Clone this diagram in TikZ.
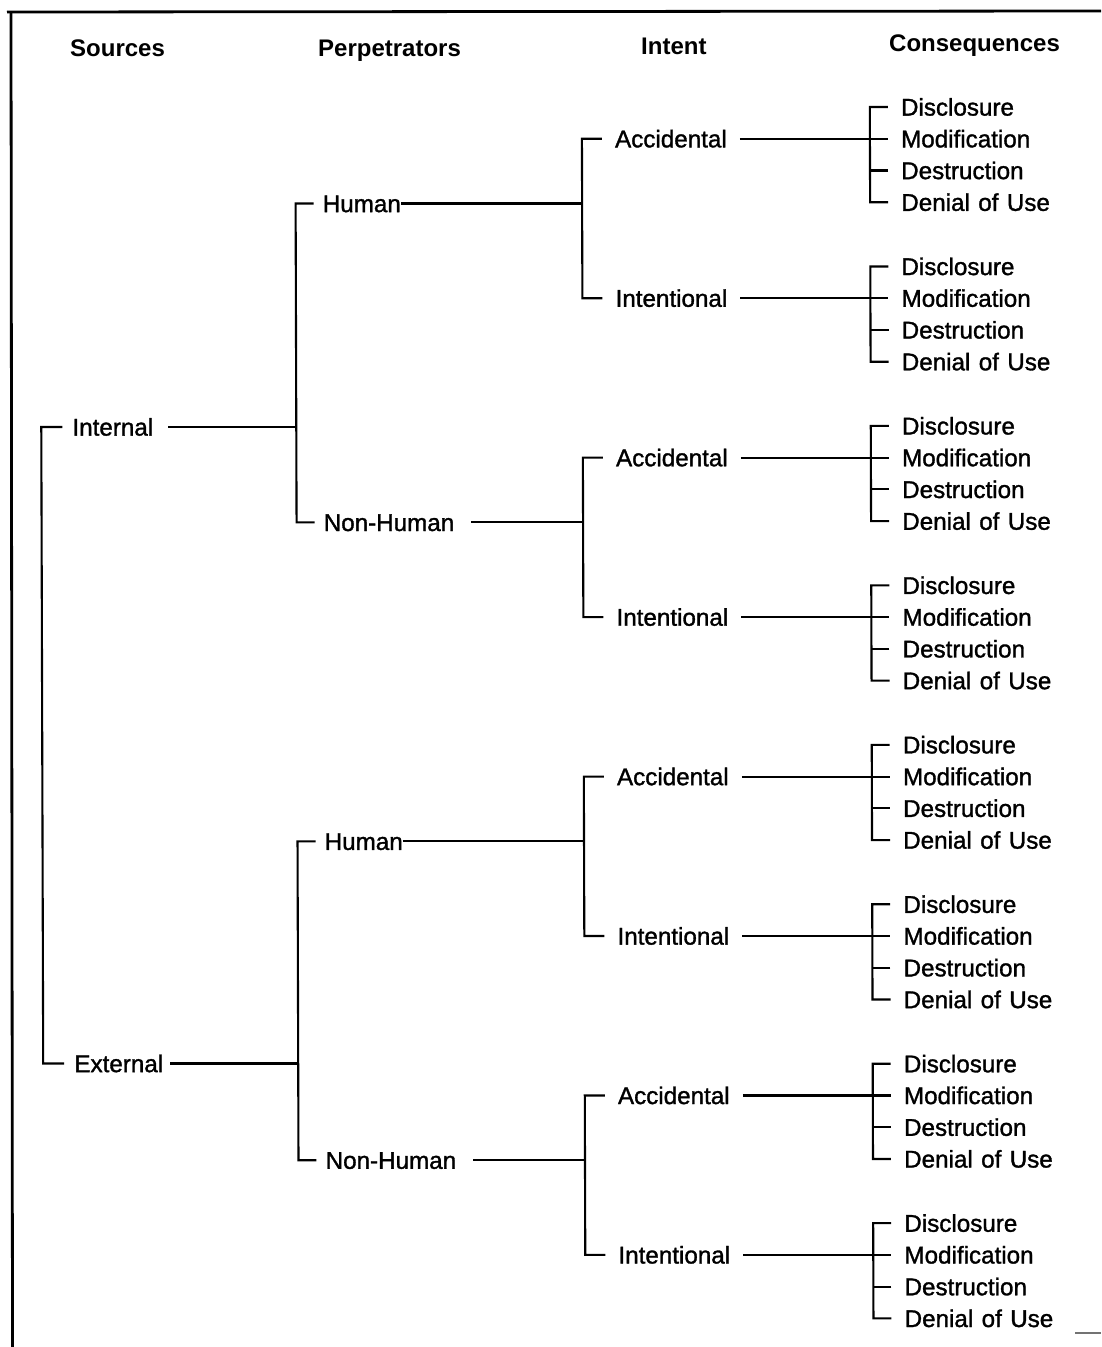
\documentclass[tikz,border=0pt]{standalone}
\usepackage{fontspec}
\setmainfont{Liberation Sans}
\newfontfamily\medfont[FakeBold=1.3,WordSpace=1.25]{Liberation Sans}
\begin{document}
\begin{tikzpicture}[x=1pt,y=-1pt,
  lbl/.style={anchor=west, inner ysep=0pt, text height=17.2pt, text depth=0pt,
              font=\medfont\fontsize{24.2}{28}\selectfont},
  srclbl/.style={lbl, inner xsep=10pt},
  perplbl/.style={lbl, inner xsep=9pt},
  intlbl/.style={lbl, inner xsep=13pt},
  conlbl/.style={lbl, inner xsep=13pt},
  hdr/.style={anchor=west, inner sep=0pt, text height=17.2pt, text depth=0pt,
              font=\bfseries\fontsize{24}{28}\selectfont},
  tree/.style={line width=2.1pt},
  frame/.style={line width=2.8pt}]
\useasboundingbox (0,0) rectangle (1101,1347);
% frame
\draw[frame] (7,12) -- (1101,11);
\draw[frame] (11,12) -- (12.5,1347);
\draw[line width=1.2pt, black!55] (1075,1333) -- (1101,1333);
% headers
\node[hdr] (hs) at (70,48) {Sources};
\node[hdr] (hp) at (318,48) {Perpetrators};
\node[hdr] (hi) at (641,46) {Intent};
\node[hdr] (hc) at (889,43) {Consequences};
\begin{scope}[xslant=-0.003]
% consequences
\foreach \g in {1,...,8} {
  \pgfmathsetmacro\yb{107+159.45*(\g-1)}
  \foreach [count=\j] \t in {Disclosure,Modification,Destruction,Denial of Use} {
    \node[conlbl] (c\g\j) at (887.5,{\yb+31.75*(\j-1)}) {\t};
  }
}
% intent
\foreach \g/\t in {1/Accidental,2/Intentional,3/Accidental,4/Intentional,
                   5/Accidental,6/Intentional,7/Accidental,8/Intentional} {
  \node[intlbl] (i\g) at (601.5,{138.75+159.45*(\g-1)}) {\t};
  \draw[tree] (i\g.east) -- (c\g2.west);
  \draw[tree] (c\g1.west) -- ++(-18,0) |- (c\g4.west);
  \draw[tree] (c\g3.west) -- ++(-18,0);
}
% perpetrators
\foreach \p/\t/\a/\b/\s in {1/Human/1/2/-9, 2/Non-Human/3/4/8,
                            3/Human/5/6/-9, 4/Non-Human/7/8/8} {
  \node[perplbl] (p\p) at (313,{203.5+318.9*(\p-1)}) {\t};
  \draw[tree] (i\a.west) -- ++(-20,0) coordinate (v\p) |- (i\b.west);
  \draw[tree, shorten <=\s pt] (p\p.east) -- (p\p.east -| v\p);
}
% sources
\node[srclbl] (int) at (61,427) {Internal};
\node[srclbl] (ext) at (61,1063.5) {External};
\draw[tree] (p1.west) -- ++(-18,0) coordinate (w1) |- (p2.west);
\draw[tree] (p3.west) -- ++(-18,0) coordinate (w2) |- (p4.west);
\draw[tree, shorten <=5pt] (int.east) -- (int.east -| w1);
\draw[tree, shorten <=-3pt] (ext.east) -- (ext.east -| w2);
\draw[tree] (int.west) -- ++(-21,0) |- (ext.west);
\end{scope}
\end{tikzpicture}
\end{document}
